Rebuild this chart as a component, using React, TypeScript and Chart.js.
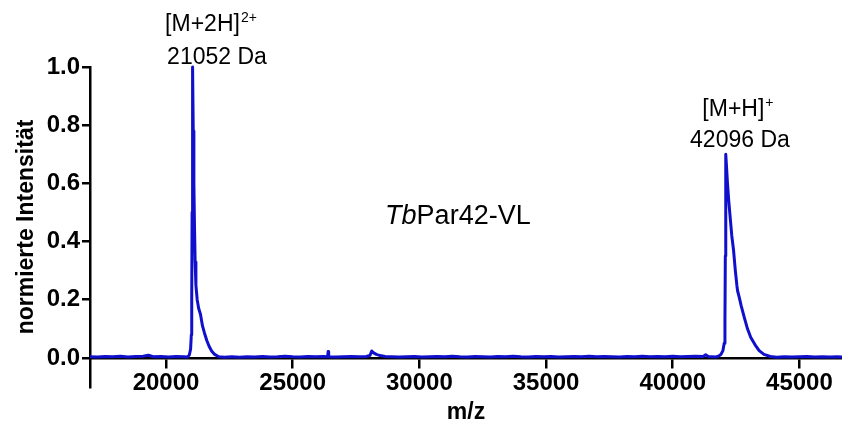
import React, { useEffect, useRef } from "react";
import { Chart, registerables } from "chart.js";

Chart.register(...registerables);

// ---- data (m/z, normalised intensity) ----
const leftBaseMz = [17000, 17300, 17600, 17900, 18200, 18500, 18800, 19100, 19300, 19500, 19800, 20100, 20400, 20700];
const leftBaseInt = [0.004, 0.003, 0.005, 0.004, 0.006, 0.003, 0.005, 0.006, 0.009, 0.004, 0.005, 0.003, 0.005, 0.004];

const peak1Mz = [20850, 20920, 20970, 21000, 21015, 21030, 21045, 21052, 21075, 21100, 21125, 21150, 21180, 21230, 21290, 21360, 21440, 21520, 21610, 21700, 21800, 21920, 22080, 22300];
const peak1Int = [0.003, 0.01, 0.03, 0.08, 0.2, 0.5, 0.9, 1.0, 0.78, 0.6, 0.45, 0.33, 0.25, 0.2, 0.17, 0.15, 0.11, 0.085, 0.06, 0.04, 0.024, 0.012, 0.004, 0.002];

const midBaseMz = [22600, 22900, 23200, 23500, 23800, 24100, 24400, 24700, 25000, 25300, 25600, 25900, 26200, 26380, 26400, 26420, 26700, 27000, 27300, 27600, 27900, 28050, 28120, 28180, 28300, 28450, 28650, 28900, 29200, 29500, 29800, 30100, 30400, 30700, 31000, 31300, 31600, 31900, 32200, 32500, 32800, 33100, 33400, 33700, 34000, 34300, 34600, 34900, 35200, 35500, 35800, 36100, 36400, 36700, 37000, 37300, 37600, 37900, 38200, 38500, 38800, 39100, 39400, 39700, 40000, 40300, 40600, 40900, 41200, 41300, 41400, 41550];
const midBaseInt = [0.004, 0.002, 0.004, 0.003, 0.005, 0.003, 0.004, 0.006, 0.004, 0.003, 0.005, 0.004, 0.005, 0.004, 0.022, 0.004, 0.003, 0.004, 0.005, 0.004, 0.005, 0.008, 0.024, 0.018, 0.012, 0.008, 0.005, 0.004, 0.003, 0.004, 0.005, 0.003, 0.004, 0.005, 0.004, 0.006, 0.004, 0.003, 0.005, 0.004, 0.003, 0.005, 0.004, 0.006, 0.004, 0.003, 0.005, 0.004, 0.005, 0.003, 0.004, 0.005, 0.004, 0.006, 0.004, 0.005, 0.004, 0.003, 0.005, 0.004, 0.006, 0.004, 0.005, 0.004, 0.006, 0.004, 0.005, 0.006, 0.005, 0.011, 0.005, 0.004];

const peak2Mz = [41700, 41800, 41900, 41980, 42030, 42060, 42075, 42088, 42096, 42120, 42160, 42210, 42270, 42330, 42400, 42470, 42530, 42560, 42620, 42700, 42820, 42950, 43080, 43250, 43410, 43600, 43850, 44100];
const peak2Int = [0.003, 0.006, 0.012, 0.025, 0.05, 0.12, 0.35, 0.6, 0.7, 0.66, 0.6, 0.54, 0.48, 0.42, 0.37, 0.3, 0.25, 0.23, 0.21, 0.18, 0.14, 0.1, 0.07, 0.045, 0.025, 0.012, 0.005, 0.002];

const rightBaseMz = [44400, 44700, 45000, 45300, 45600, 45900, 46200, 46500, 46680];
const rightBaseInt = [0.004, 0.003, 0.004, 0.005, 0.003, 0.004, 0.003, 0.004, 0.003];

const xTicks = [20000, 25000, 30000, 35000, 40000, 45000];
const yTicks = [0, 0.2, 0.4, 0.6, 0.8, 1.0];

const peakLabels = ["[M+2H]", "[M+H]"];
const peakCharges = ["2+", "+"];
const peakMasses = ["21052 Da", "42096 Da"];
const sampleName = ["Tb", "Par42-VL"];

const FONT = "'Liberation Sans', Arial, sans-serif";

const allMz = [...leftBaseMz, ...peak1Mz, ...midBaseMz, ...peak2Mz, ...rightBaseMz];
const allInt = [...leftBaseInt, ...peak1Int, ...midBaseInt, ...peak2Int, ...rightBaseInt];

const annotationPlugin = {
  id: "annotations",
  afterDatasetsDraw(chart: any) {
    const { ctx, scales } = chart;
    const xs = scales.x;
    const ys = scales.y;
    ctx.save();
    ctx.fillStyle = "#000";
    ctx.textBaseline = "alphabetic";

    const drawWithSup = (main: string, sup: string, cx: number, by: number) => {
      ctx.font = `23px ${FONT}`;
      const w1 = ctx.measureText(main).width;
      ctx.font = `14px ${FONT}`;
      const w2 = sup ? ctx.measureText(sup).width + 1 : 0;
      const start = cx - (w1 + w2) / 2;
      ctx.font = `23px ${FONT}`;
      ctx.textAlign = "left";
      ctx.fillText(main, start, by);
      if (sup) {
        ctx.font = `14px ${FONT}`;
        ctx.fillText(sup, start + w1 + 1, by - 9);
      }
    };

    // peak 1 labels
    drawWithSup(peakLabels[0], peakCharges[0], xs.getPixelForValue(21775), ys.getPixelForValue(1.124));
    drawWithSup(peakMasses[0], "", xs.getPixelForValue(22012), ys.getPixelForValue(1.01));
    // peak 2 labels
    drawWithSup(peakLabels[1], peakCharges[1], xs.getPixelForValue(42572), ys.getPixelForValue(0.831));
    drawWithSup(peakMasses[1], "", xs.getPixelForValue(42651), ys.getPixelForValue(0.724));

    // sample name, "Tb" italic
    const cx = xs.getPixelForValue(31520);
    const by = ys.getPixelForValue(0.462);
    ctx.font = `italic 27px ${FONT}`;
    const wA = ctx.measureText(sampleName[0]).width;
    ctx.font = `27px ${FONT}`;
    const wB = ctx.measureText(sampleName[1]).width;
    const sx = cx - (wA + wB) / 2;
    ctx.textAlign = "left";
    ctx.font = `italic 27px ${FONT}`;
    ctx.fillText(sampleName[0], sx, by);
    ctx.font = `27px ${FONT}`;
    ctx.fillText(sampleName[1], sx + wA, by);
    ctx.restore();
  },
};

export default function App() {
  const canvasRef = useRef<HTMLCanvasElement | null>(null);

  useEffect(() => {
    const canvas = canvasRef.current;
    if (!canvas) return;
    const points = allMz.map((m, i) => ({ x: m, y: allInt[i] }));
    const titleFont = { family: FONT, size: 23, weight: "bold" as const };
    const yTickFont = { family: FONT, size: 24, weight: "bold" as const };
    const xTickFont = { family: FONT, size: 24, weight: "bold" as const };

    const chart = new Chart(canvas, {
      type: "line",
      data: {
        datasets: [
          {
            data: points,
            borderColor: "#1010cc",
            borderWidth: 3,
            borderJoinStyle: "round",
            pointRadius: 0,
            tension: 0,
            fill: false,
            clip: false as any,
          },
        ],
      },
      options: {
        animation: false,
        responsive: false,
        maintainAspectRatio: false,
        parsing: false as any,
        layout: { padding: { left: 0, top: 67, right: 0, bottom: 45 } },
        plugins: {
          legend: { display: false },
          tooltip: { enabled: false },
        },
        scales: {
          x: {
            type: "linear",
            min: 17000,
            max: 46680,
            position: { y: 0 } as any,
            afterBuildTicks: (s: any) => {
              s.ticks = xTicks.map((v) => ({ value: v }));
            },
            afterFit: (s: any) => {
              s.height = 45;
            },
            grid: {
              display: true,
              drawOnChartArea: false,
              drawTicks: true,
              tickLength: 9,
              color: "#000",
              lineWidth: 2.5,
            },
            border: { display: true, color: "#000", width: 2.5 },
            ticks: {
              color: "#000",
              font: xTickFont,
              padding: 2,
              maxRotation: 0,
              autoSkip: false,
              callback: (v: any) => String(v),
            },
            title: {
              display: true,
              text: "m/z",
              color: "#000",
              font: titleFont,
              padding: { top: 0, bottom: -24 },
            },
          },
          y: {
            type: "linear",
            min: -0.1,
            max: 1.0,
            position: "left",
            afterBuildTicks: (s: any) => {
              s.ticks = yTicks.map((v) => ({ value: v }));
            },
            afterFit: (s: any) => {
              s.width = 90;
            },
            grid: {
              display: true,
              drawOnChartArea: false,
              drawTicks: true,
              tickLength: 8,
              color: "#000",
              lineWidth: 2.5,
            },
            border: { display: true, color: "#000", width: 2.5 },
            ticks: {
              color: "#000",
              font: yTickFont,
              padding: 2,
              callback: (v: any) => Number(v).toFixed(1),
            },
            title: {
              display: true,
              text: "normierte Intensität",
              color: "#000",
              font: titleFont,
              padding: { top: 13, bottom: 0 },
            },
          },
        },
      },
      plugins: [annotationPlugin],
    });
    return () => chart.destroy();
  }, []);

  return (
    <div style={{ position: "absolute", left: 0, top: 0, width: 842, height: 432, background: "#fff" }}>
      <canvas ref={canvasRef} width={842} height={432} style={{ display: "block" }} />
    </div>
  );
}
